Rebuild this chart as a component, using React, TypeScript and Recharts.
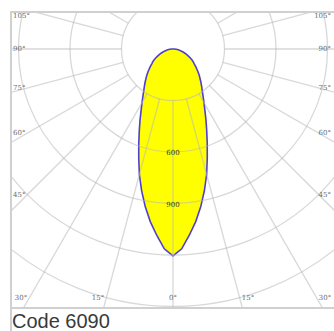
import React from 'react';
import { RadarChart, Radar, PolarGrid, PolarAngleAxis, PolarRadiusAxis } from 'recharts';

// Luminous intensity (cd), gamma 0..90 deg in 2.5 deg steps (curve is symmetric; upper hemisphere is 0)
const gammaStep = 2.5;
const intensity = [
  1205, 1165, 1089, 1014, 932, 845, 757, 664, 583, 513, 454, 402, 361, 326, 297, 274, 253, 233, 216,
  198, 181, 166, 151, 140, 128, 114, 99, 87, 76, 64, 52, 44, 35, 26, 17, 9, 0,
];

// Grid: radial lines every 15 deg, rings every 300 cd
const gridAngles = [0, 15, 30, 45, 60, 75, 90, 105, 120, 135, 150, 165, 180, 195, 210, 225, 240, 255, 270, 285, 300, 315, 330, 345];
const ringTicks = [300, 600, 900, 1200, 1500, 1800, 2100];
const ringLabels = [600, 900];
const angleLabels = [0, 15, 30, 45, 60, 75, 90, 105];
const caption = 'Code 6090';

const curveRows = Array.from({ length: 360 / gammaStep }, (_, i) => {
  const a = i * gammaStep;
  const g = a <= 180 ? a : 360 - a;
  const k = Math.round(g / gammaStep);
  return { a, cd: k < intensity.length ? intensity[k] : 0 };
});
const gridRows = gridAngles.map((g) => ({ g }));

const W = 322;
const H = 294;
const CX = 161;
const CY = 36;
const R_OUT = 360.5;
const R_IN = 51.5;
const NO_MARGIN = { top: 0, right: 0, bottom: 0, left: 0 };

function AngleTick(props: any) {
  const v = Number(props?.payload?.value);
  const right = v <= 180;
  const g = right ? v : 360 - v;
  if (!angleLabels.includes(g)) return <g />;
  const t = (g * Math.PI) / 180;
  let x = 0;
  let y = 0;
  let anchor: 'start' | 'middle' | 'end' = 'middle';
  if (g <= 30) {
    y = 285;
    const dx = (y - CY) * Math.tan(t);
    if (g === 0) {
      x = CX;
      anchor = 'middle';
    } else if (right) {
      x = CX + dx + 2;
      anchor = 'start';
    } else {
      x = CX - dx - 2;
      anchor = 'end';
    }
  } else {
    y = Math.max(CY + 146 / Math.tan(t), 3);
    if (right) {
      x = 319;
      anchor = 'end';
    } else {
      x = 1;
      anchor = 'start';
    }
  }
  return (
    <text x={x} y={y} textAnchor={anchor} dominantBaseline="central" fontSize={7} fontFamily="DejaVu Serif" fill="#6a6a6a">
      {g}°
    </text>
  );
}

function RingTick(props: any) {
  const val = Number(props?.payload?.value);
  if (!ringLabels.includes(val)) return <g />;
  return (
    <text x={props.x} y={props.y + 1} textAnchor="middle" dominantBaseline="central" fontSize={7} fontFamily="DejaVu Serif" fill="#333">
      {val}
    </text>
  );
}

export default function App() {
  return (
    <div>
      <style>{'html,body{overflow:hidden}'}</style>
      <div
        style={{
          position: 'absolute',
          left: 10,
          top: 11,
          width: 324,
          height: 320,
          boxSizing: 'border-box',
          borderLeft: '2px solid #d0d0d0',
          borderTop: '2px solid #d0d0d0',
        }}
      />
      <div style={{ position: 'absolute', left: 10, top: 307, width: 324, height: 0, borderTop: '2px solid #d0d0d0' }} />
      <div style={{ position: 'absolute', left: 12, top: 13, width: W, height: H, overflow: 'hidden' }}>
        <div style={{ position: 'absolute', left: 0, top: 0 }}>
          <RadarChart
            width={W}
            height={H}
            cx={CX}
            cy={CY}
            innerRadius={0}
            outerRadius={R_OUT}
            startAngle={-90}
            endAngle={270}
            data={curveRows}
            margin={NO_MARGIN}
          >
            <PolarAngleAxis
              dataKey="a"
              type="number"
              domain={[0, 360]}
              allowDataOverflow
              tick={false}
              tickLine={false}
              axisLine={false}
            />
            <PolarRadiusAxis type="number" domain={[0, 2100]} allowDataOverflow tick={false} axisLine={false} />
            <Radar
              dataKey="cd"
              fill="#ffff00"
              fillOpacity={1}
              stroke="#4f3fcf"
              strokeWidth={1.6}
              dot={false}
              isAnimationActive={false}
            />
          </RadarChart>
        </div>
        <div style={{ position: 'absolute', left: 0, top: 0 }}>
          <RadarChart
            width={W}
            height={H}
            cx={CX}
            cy={CY}
            innerRadius={R_IN}
            outerRadius={R_OUT}
            startAngle={-90}
            endAngle={270}
            data={gridRows}
            margin={NO_MARGIN}
          >
            <PolarGrid gridType="circle" stroke="#b8b8b8" strokeOpacity={0.55} strokeWidth={1.3} />
            <PolarAngleAxis dataKey="g" tick={<AngleTick />} tickLine={false} axisLine={false} />
            <PolarRadiusAxis
              angle={-90}
              type="number"
              domain={[300, 2100]}
              ticks={ringTicks}
              allowDataOverflow
              tick={<RingTick />}
              axisLine={false}
            />
            <Radar dataKey={() => 300} stroke="none" fill="none" dot={false} isAnimationActive={false} />
          </RadarChart>
        </div>
      </div>
      <div
        style={{
          position: 'absolute',
          left: 12,
          top: 311,
          fontFamily: '"Liberation Sans", Arial, sans-serif',
          fontSize: 20,
          lineHeight: '20px',
          color: '#3a3a3a',
          whiteSpace: 'nowrap',
        }}
      >
        {caption}
      </div>
    </div>
  );
}
